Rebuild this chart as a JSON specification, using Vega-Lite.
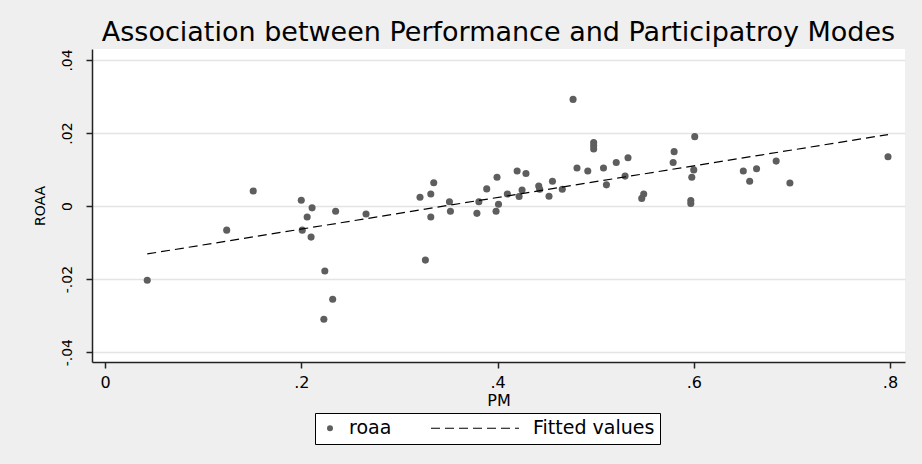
{
  "$schema": "https://vega.github.io/schema/vega-lite/v6.json",
  "width": 813,
  "height": 313,
  "autosize": {"type": "none"},
  "padding": {"left": 92, "top": 49, "right": 17, "bottom": 102},
  "background": "#efefef",
  "title": {
    "text": "Association between Performance and Participatroy Modes",
    "font": "DejaVu Sans",
    "fontSize": 27,
    "fontWeight": "normal",
    "color": "#000000",
    "anchor": "middle",
    "baseline": "bottom",
    "offset": -25
  },
  "config": {
    "font": "DejaVu Sans",
    "view": {"fill": "#ffffff", "stroke": null},
    "axis": {
      "domainColor": "#222222",
      "domainWidth": 1.5,
      "tickColor": "#222222",
      "tickWidth": 1.5,
      "tickSize": 6,
      "labelColor": "#000000",
      "titleColor": "#000000",
      "titleFontWeight": "normal",
      "labelFont": "DejaVu Sans",
      "titleFont": "DejaVu Sans",
      "gridColor": "#e4e4e4",
      "gridWidth": 1.5
    }
  },
  "datasets": {
    "points": [
      {"PM": 0.043, "roaa": -0.0203},
      {"PM": 0.124, "roaa": -0.0066},
      {"PM": 0.151, "roaa": 0.0041},
      {"PM": 0.200, "roaa": 0.0016},
      {"PM": 0.201, "roaa": -0.0066},
      {"PM": 0.206, "roaa": -0.0030},
      {"PM": 0.210, "roaa": -0.0085},
      {"PM": 0.211, "roaa": -0.0005},
      {"PM": 0.223, "roaa": -0.0310},
      {"PM": 0.224, "roaa": -0.0178},
      {"PM": 0.232, "roaa": -0.0255},
      {"PM": 0.235, "roaa": -0.0014},
      {"PM": 0.266, "roaa": -0.0022},
      {"PM": 0.321, "roaa": 0.0024},
      {"PM": 0.3265, "roaa": -0.0148},
      {"PM": 0.332, "roaa": 0.0033},
      {"PM": 0.332, "roaa": -0.0030},
      {"PM": 0.335, "roaa": 0.0064},
      {"PM": 0.351, "roaa": 0.0012},
      {"PM": 0.352, "roaa": -0.0014},
      {"PM": 0.379, "roaa": -0.0020},
      {"PM": 0.381, "roaa": 0.0012},
      {"PM": 0.389, "roaa": 0.0047},
      {"PM": 0.3985, "roaa": -0.0014},
      {"PM": 0.3995, "roaa": 0.0079},
      {"PM": 0.401, "roaa": 0.0005},
      {"PM": 0.410, "roaa": 0.0033},
      {"PM": 0.420, "roaa": 0.0096},
      {"PM": 0.422, "roaa": 0.0026},
      {"PM": 0.425, "roaa": 0.0044},
      {"PM": 0.429, "roaa": 0.0089},
      {"PM": 0.442, "roaa": 0.0055},
      {"PM": 0.443, "roaa": 0.0046},
      {"PM": 0.4525, "roaa": 0.0027},
      {"PM": 0.456, "roaa": 0.0068},
      {"PM": 0.466, "roaa": 0.0046},
      {"PM": 0.477, "roaa": 0.0292},
      {"PM": 0.481, "roaa": 0.0104},
      {"PM": 0.492, "roaa": 0.0096},
      {"PM": 0.498, "roaa": 0.0174},
      {"PM": 0.498, "roaa": 0.0165},
      {"PM": 0.498, "roaa": 0.0156},
      {"PM": 0.508, "roaa": 0.0104},
      {"PM": 0.511, "roaa": 0.0058},
      {"PM": 0.521, "roaa": 0.0119},
      {"PM": 0.530, "roaa": 0.0082},
      {"PM": 0.533, "roaa": 0.0132},
      {"PM": 0.547, "roaa": 0.0021},
      {"PM": 0.549, "roaa": 0.0033},
      {"PM": 0.579, "roaa": 0.0119},
      {"PM": 0.580, "roaa": 0.0149},
      {"PM": 0.597, "roaa": 0.0015},
      {"PM": 0.597, "roaa": 0.0007},
      {"PM": 0.598, "roaa": 0.0079},
      {"PM": 0.600, "roaa": 0.0099},
      {"PM": 0.601, "roaa": 0.0190},
      {"PM": 0.6505, "roaa": 0.0096},
      {"PM": 0.657, "roaa": 0.0068},
      {"PM": 0.664, "roaa": 0.0102},
      {"PM": 0.684, "roaa": 0.0123},
      {"PM": 0.698, "roaa": 0.0063},
      {"PM": 0.798, "roaa": 0.0135}
    ],
    "fit": [
      {"PM": 0.043, "fitted": -0.01311},
      {"PM": 0.798, "fitted": 0.01958}
    ]
  },
  "layer": [
    {
      "data": {"name": "points"},
      "mark": {"type": "point", "filled": true, "size": 50, "opacity": 1, "strokeWidth": 0},
      "encoding": {
        "x": {
          "field": "PM", "type": "quantitative",
          "scale": {"domain": [-0.0133, 0.8153], "nice": false, "zero": false},
          "axis": {
            "values": [0, 0.2, 0.4, 0.6, 0.8],
            "title": "PM", "grid": false,
            "labelFontSize": 16, "titleFontSize": 16,
            "labelPadding": 6, "titlePadding": 2,
            "labelExpr": "datum.value == 0 ? '0' : replace(format(datum.value, '.1f'), '0.', '.')"
          }
        },
        "y": {
          "field": "roaa", "type": "quantitative",
          "scale": {"domain": [-0.0427, 0.043], "nice": false, "zero": false},
          "axis": {
            "values": [-0.04, -0.02, 0, 0.02, 0.04],
            "title": "ROAA", "grid": true,
            "labelAngle": -90, "labelFontSize": 14, "titleFontSize": 14,
            "labelPadding": 12, "titlePadding": 13,
            "labelExpr": "datum.value == 0 ? '0' : (datum.value < 0 ? '-' : '') + replace(format(abs(datum.value), '.2f'), '0.', '.')"
          }
        },
        "color": {
          "datum": "roaa",
          "scale": {"domain": ["roaa", "Fitted values"], "range": ["#5e5e5e", "#000000"]},
          "legend": {
            "orient": "none",
            "legendX": 223,
            "legendY": 364,
            "direction": "horizontal",
            "title": null,
            "labelFont": "DejaVu Sans",
            "labelFontSize": 19,
            "labelColor": "#000000",
            "strokeColor": "#000000",
            "fillColor": "#ffffff",
            "padding": 5.5,
            "columnPadding": 30,
            "labelOffset": {"expr": "datum.value === 'Fitted values' ? 92.5 : 9.5"},
            "symbolSize": 36,
            "symbolStrokeWidth": 1.2,
            "symbolType": {"expr": "datum.value === 'roaa' ? 'circle' : 'M0,0H29.33'"},
            "symbolStrokeColor": {"expr": "datum.value === 'roaa' ? 'transparent' : '#000000'"},
            "symbolDash": {"expr": "datum.value === 'roaa' ? [1, 0] : [9, 5]"}
          }
        }
      }
    },
    {
      "data": {"name": "fit"},
      "mark": {"type": "line", "color": "#000000", "strokeDash": [9, 5], "strokeWidth": 1.2},
      "encoding": {
        "x": {"field": "PM", "type": "quantitative"},
        "y": {"field": "fitted", "type": "quantitative", "axis": {"title": "ROAA"}}
      }
    }
  ]
}
